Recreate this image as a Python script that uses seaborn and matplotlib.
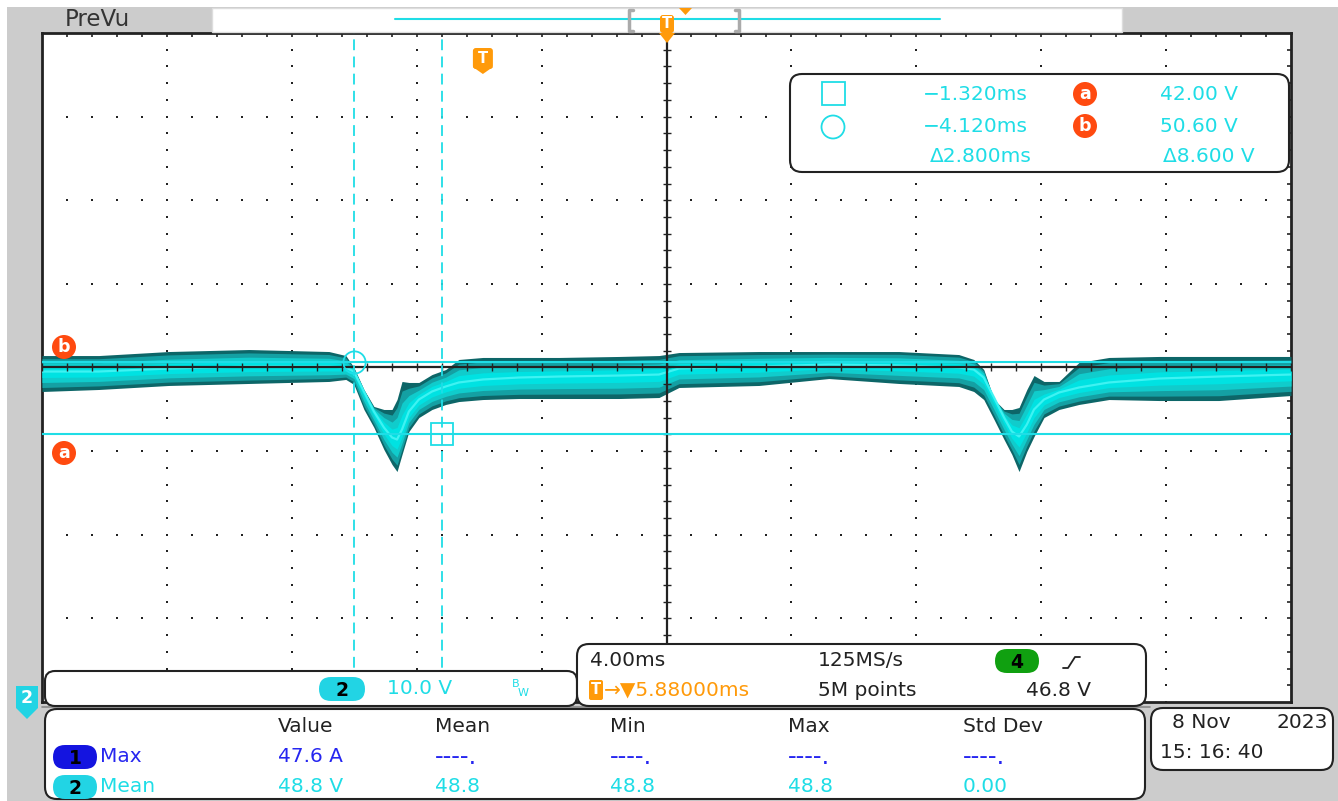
import matplotlib
matplotlib.use("Agg")
import matplotlib.pyplot as plt
from matplotlib import font_manager
from matplotlib.patches import FancyBboxPatch, Circle, Polygon, Rectangle
import numpy as np
import seaborn as sns

# channel 2 trace: time from trigger (ms) and volts
t_ms = [-14.12, -12.30, -10.06, -7.49, -4.93, -4.39, -4.13, -3.81, -3.49, -3.17,
        -2.91, -2.75, -2.59, -2.37, -2.05, -1.63, -1.19, -0.77, 0.00, 1.15,
        2.43, 4.36, 5.64, 6.28, 8.84, 11.08, 13.32, 15.24, 15.72, 16.04,
        16.37, 16.69, 16.94, 17.17, 17.42, 17.65, 17.97, 18.45, 19.09, 20.05,
        21.65, 23.57, 25.88]
v_upper = [51.43, 51.43, 51.91, 52.15, 51.91, 51.43, 50.00, 47.37, 45.34, 44.98,
           44.98, 46.17, 48.33, 48.21, 48.21, 49.16, 49.76, 50.96, 51.20, 51.20,
           51.20, 51.32, 51.43, 51.79, 51.91, 51.91, 51.91, 51.55, 50.96, 49.76,
           46.17, 44.98, 44.98, 45.22, 47.37, 49.04, 48.33, 48.33, 50.60, 51.20,
           51.32, 51.32, 51.32]
v_lower = [47.13, 47.37, 47.85, 48.09, 48.33, 48.57, 47.97, 44.98, 42.83, 40.19,
           38.40, 37.56, 39.60, 42.35, 44.02, 44.98, 45.58, 45.93, 46.17, 46.29,
           46.29, 46.29, 46.41, 47.61, 47.85, 48.68, 48.09, 47.73, 47.13, 46.17,
           43.78, 41.39, 39.60, 37.56, 39.96, 41.75, 44.02, 44.98, 45.58, 46.17,
           46.05, 46.05, 46.65]
v_center = [49.52, 49.52, 49.88, 50.12, 50.12, 50.00, 49.52, 47.13, 44.74, 42.83,
            41.63, 41.39, 42.59, 44.74, 46.17, 47.13, 47.73, 48.21, 48.57, 48.80,
            48.92, 49.04, 49.16, 49.88, 50.12, 50.36, 50.24, 50.00, 49.76, 48.80,
            46.41, 44.02, 42.35, 41.75, 43.18, 44.98, 46.17, 47.01, 47.61, 48.21,
            48.68, 48.92, 49.16]

# scope settings
time_per_div = 4.0
volts_per_div = 10.0
trig_delay = 5.88
screen_center_v = 50.0
cursor_sq_t, cursor_ci_t = -1.320, -4.120
cursor_a_v, cursor_b_v = 42.00, 50.60

# measurement table
meas_headers = ["Value", "Mean", "Min", "Max", "Std Dev"]
meas_row1 = ["47.6 A", "----.", "----.", "----.", "----."]
meas_row2 = ["48.8 V", "48.8", "48.8", "48.8", "0.00"]

W, H = 1338, 801
names = {f.name for f in font_manager.fontManager.ttflist}
FONT = "Liberation Sans Narrow" if "Liberation Sans Narrow" in names else "DejaVu Sans"
FS = 17 if FONT == "Liberation Sans Narrow" else 14.5

sns.set_style("white")
plt.rcParams["font.family"] = [FONT, "DejaVu Sans"]

CYAN = "#1fdde6"
TRACE_CYAN = "#00e2e2"
BLUE = "#2626f0"
ORANGE = "#ff9a0a"
RED = "#ff4a10"
DARK = "#222222"

fig = plt.figure(figsize=(W / 100, H / 100), dpi=100)
fig.patch.set_facecolor("white")

# bezel
bg = fig.add_axes([0, 0, 1, 1], zorder=0)
bg.set_xlim(0, W)
bg.set_ylim(H, 0)
bg.axis("off")
bg.add_patch(Rectangle((7, 7), W - 7, H - 7, fc="#cccccc", ec="none"))

# graticule
ax = fig.add_axes([42 / W, 1 - 702 / H, 1249 / W, 669 / H], zorder=1)
ax.set_facecolor("white")
x0 = trig_delay - 5 * time_per_div
x1 = trig_delay + 5 * time_per_div
y0 = screen_center_v - 4 * volts_per_div
y1 = screen_center_v + 4 * volts_per_div
ax.set_xlim(x0, x1)
ax.set_ylim(y0, y1)

minor_x = x0 + time_per_div / 5 * np.arange(51)
minor_y = y0 + volts_per_div / 5 * np.arange(41)
major_x = x0 + time_per_div * np.arange(1, 10)
major_y = y0 + volts_per_div * np.arange(1, 8)

ax.set_xticks(minor_x[1:-1])
ax.set_yticks(minor_y[1:-1])
ax.tick_params(axis="both", direction="in", length=3, width=1.2, color=DARK,
               top=True, right=True, labelbottom=False, labelleft=False)
for s in ax.spines.values():
    s.set_color(DARK)
    s.set_linewidth(2)

for mx in major_x:
    if abs(mx - trig_delay) > 1e-6:
        ax.scatter(np.full(len(minor_y), mx), minor_y, s=2.4, marker="s",
                   color=DARK, lw=0, zorder=2)
for my in major_y:
    if abs(my - screen_center_v) > 1e-6:
        ax.scatter(minor_x, np.full(len(minor_x), my), s=2.4, marker="s",
                   color=DARK, lw=0, zorder=2)

# trace (persistence look: dark envelope, lighter body, bright core)
t = np.array(t_ms)
hi = np.array(v_upper)
lo = np.array(v_lower)
c = np.array(v_center)
ax.fill_between(t, lo, hi, color="#0d6668", lw=0, zorder=3)
ax.fill_between(t, c + 0.8 * (lo - c), c + 0.8 * (hi - c), color="#14a0a3", lw=0, zorder=3)
ax.fill_between(t, c + 0.55 * (lo - c), c + 0.55 * (hi - c), color="#10cccc", lw=0, zorder=3)
ax.fill_between(t, c + 0.3 * (lo - c), c + 0.3 * (hi - c), color=TRACE_CYAN, lw=0, zorder=3)
sns.lineplot(x=t, y=c, ax=ax, color="#3ff2f2", lw=1.6, estimator=None, sort=False, zorder=4)

# centre crosshair
ax.axvline(trig_delay, color=DARK, lw=1.6, zorder=6)
ax.axhline(screen_center_v, color=DARK, lw=1.6, zorder=6)
ax.scatter(np.full(len(minor_y), trig_delay), minor_y, marker="_", s=30, color=DARK, lw=1, zorder=6)
ax.scatter(minor_x, np.full(len(minor_x), screen_center_v), marker="|", s=30, color=DARK, lw=1, zorder=6)

# cursors
ax.axhline(cursor_a_v, color=CYAN, lw=1.5, zorder=7)
ax.axhline(cursor_b_v, color=CYAN, lw=1.5, zorder=7)
ax.axvline(cursor_ci_t, color=CYAN, lw=1.3, ls=(0, (6, 3.5)), zorder=7)
ax.axvline(cursor_sq_t, color=CYAN, lw=1.3, ls=(0, (6, 3.5)), zorder=7)
ax.plot(cursor_ci_t, cursor_b_v, marker="o", ms=16, mfc="none", mec=CYAN, mew=1.3, zorder=8)
ax.plot(cursor_sq_t, cursor_a_v, marker="s", ms=16, mfc="none", mec=CYAN, mew=1.3, zorder=8)
ax.set_xlabel("")
ax.set_ylabel("")

# overlay in screen pixels
ov = fig.add_axes([0, 0, 1, 1], zorder=2)
ov.set_xlim(0, W)
ov.set_ylim(H, 0)
ov.axis("off")
ov.patch.set_alpha(0)


def rbox(xa, ya, xb, yb, r=10, ec=DARK, lw=1.5, fc="white", z=3):
    ov.add_patch(FancyBboxPatch((xa, ya), xb - xa, yb - ya,
                                boxstyle=f"round,pad=0,rounding_size={r}",
                                fc=fc, ec=ec, lw=lw, zorder=z))


def txt(x, y, s, color=DARK, ha="left", size=FS, **kw):
    ov.text(x, y, s, color=color, ha=ha, va="center", fontsize=size, zorder=6, **kw)


def pill(cx, cy, w, h, fc, label, tc="black"):
    rbox(cx - w / 2, cy - h / 2, cx + w / 2, cy + h / 2, r=h / 2, ec="none", fc=fc, z=5)
    txt(cx, cy + 1, label, color=tc, ha="center", size=FS - 1, fontweight="bold")


def badge(cx, cy, letter):
    ov.add_patch(Circle((cx, cy), 12, fc=RED, ec="none", zorder=5))
    txt(cx, cy, letter, color="white", ha="center", size=FS - 2, fontweight="bold")


def tmark(cx, ytop, w, h):
    ov.add_patch(FancyBboxPatch((cx - w / 2, ytop), w, h,
                                boxstyle="round,pad=0,rounding_size=3",
                                fc=ORANGE, ec="none", zorder=5))
    txt(cx, ytop + h / 2, "T", color="white", ha="center", size=FS - 4, fontweight="bold")


# top strip
txt(65, 20, "PreVu", color="#333333", size=FS + 2)
ov.add_patch(Rectangle((212, 8), 910, 24, fc="white", ec="#dddddd", lw=1, zorder=3))
ov.plot([395, 940], [19, 19], color=CYAN, lw=1.5, zorder=4)
ov.plot([633, 629, 629, 633], [10, 10, 31, 31], color="#aaaaaa", lw=2.5, zorder=4)
ov.plot([735, 739, 739, 735], [10, 10, 31, 31], color="#aaaaaa", lw=2.5, zorder=4)
ov.add_patch(Polygon([[679, 8], [692, 8], [685.5, 15]], fc=ORANGE, ec="none", zorder=5))
tmark(667, 15, 14, 18)
ov.add_patch(Polygon([[659, 33], [675, 33], [667, 43]], fc=ORANGE, ec="none", zorder=5))

# trigger marker on screen
trig_px = 42 + (0 - x0) / (x1 - x0) * 1249
tmark(trig_px, 48, 20, 21)
ov.add_patch(Polygon([[trig_px - 10, 67], [trig_px + 10, 67], [trig_px, 74]],
                     fc=ORANGE, ec="none", zorder=5))

# cursor badges at left edge
badge(64, 347, "b")
badge(64, 453, "a")

# cursor readout
rbox(790, 74, 1289, 172, r=12)
ov.add_patch(Rectangle((822, 82), 23, 23, fc="none", ec=CYAN, lw=1.3, zorder=5))
ov.add_patch(Circle((833, 127), 11.5, fc="none", ec=CYAN, lw=1.3, zorder=5))
txt(1028, 94, f"\u2212{abs(cursor_sq_t):.3f}ms", color=CYAN, ha="right")
txt(1028, 126, f"\u2212{abs(cursor_ci_t):.3f}ms", color=CYAN, ha="right")
txt(1032, 157, f"\u0394{abs(cursor_sq_t - cursor_ci_t):.3f}ms", color=CYAN, ha="right")
badge(1085, 94, "a")
badge(1085, 126, "b")
txt(1238, 94, f"{cursor_a_v:.2f} V", color=CYAN, ha="right")
txt(1238, 126, f"{cursor_b_v:.2f} V", color=CYAN, ha="right")
txt(1255, 157, f"\u0394{abs(cursor_b_v - cursor_a_v):.3f} V", color=CYAN, ha="right")

# channel 2 ground marker
ov.add_patch(Polygon([[16, 686], [38, 686], [38, 708], [27, 719], [16, 708]],
                     fc="#22d4e4", ec="none", zorder=5))
txt(27, 698, "2", color="white", ha="center", size=FS - 2, fontweight="bold")

# channel box
ov.plot([42, 1150], [707, 707], color="#888888", lw=1.2, zorder=2)
rbox(45, 671, 577, 706, r=10)
pill(342, 689, 46, 24, "#22d4e4", "2")
txt(387, 689, f"{volts_per_div:.1f} V", color=CYAN)
txt(512, 684, "B", color=CYAN, size=8)
txt(518, 693, "W", color=CYAN, size=8)

# horizontal / trigger box
rbox(577, 644, 1146, 706, r=12)
txt(590, 661, f"{time_per_div:.2f}ms")
txt(818, 661, "125MS/s")
pill(1017, 661, 44, 24, "#10a010", "4")
ov.plot([1063, 1068, 1075, 1080], [668, 668, 657, 657], color=DARK, lw=1.3, zorder=6)
ov.add_patch(FancyBboxPatch((589, 680), 14, 20, boxstyle="round,pad=0,rounding_size=2",
                            fc=ORANGE, ec="none", zorder=5))
txt(596, 690, "T", color="white", ha="center", size=FS - 4, fontweight="bold")
txt(604, 690, f"\u2192\u25bc{trig_delay:.5f}ms", color=ORANGE)
txt(818, 690, "5M points")
txt(1091, 690, "46.8 V", ha="right")

# measurement box
rbox(45, 709, 1145, 799, r=12)
col_x = [278, 435, 610, 788, 963]
for x, h in zip(col_x, meas_headers):
    txt(x, 727, h)
pill(75, 757, 44, 24, "#1414e0", "1")
txt(100, 757, "Max", color=BLUE)
pill(75, 787, 44, 24, "#22d4e4", "2")
txt(100, 787, "Mean", color=CYAN)
for x, v in zip(col_x, meas_row1):
    txt(x, 757, v, color=BLUE, size=FS + 3 if v.startswith("-") else FS)
for x, v in zip(col_x, meas_row2):
    txt(x, 787, v, color=CYAN)

# date box
rbox(1151, 708, 1333, 770, r=12)
txt(1172, 722, "8 Nov")
txt(1328, 722, "2023", ha="right")
txt(1160, 753, "15: 16: 40")

fig.savefig("out.png", dpi=100, facecolor=fig.get_facecolor())
